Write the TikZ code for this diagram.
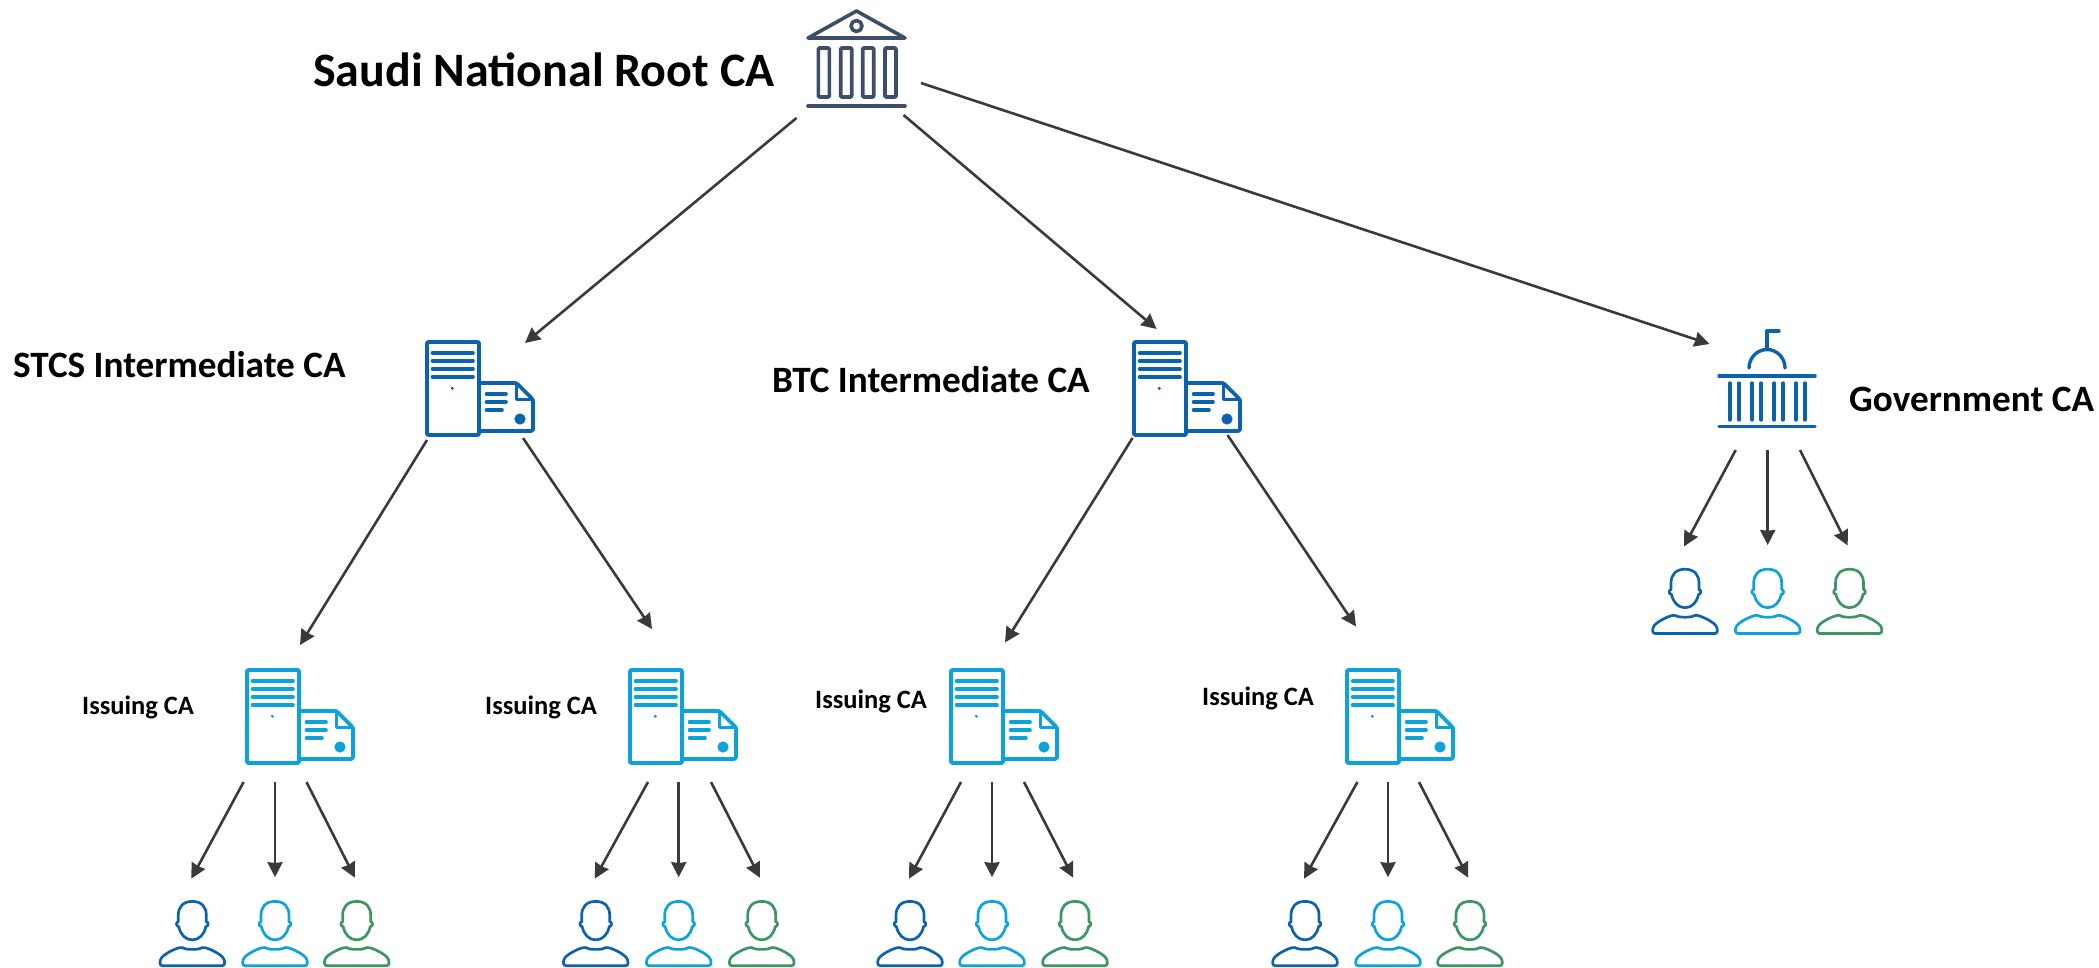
\documentclass[tikz,border=0pt]{standalone}
\usepackage{fontspec}
\setmainfont{Carlito}
\usetikzlibrary{arrows.meta}
\definecolor{rootc}{HTML}{3D4F68}
\definecolor{bluec}{HTML}{0B63AD}
\definecolor{skyc}{HTML}{0CA3DC}
\definecolor{greenc}{HTML}{3B9662}
\definecolor{arrowc}{HTML}{3A3A3A}
\tikzset{
  x=1pt,y=-1pt,
  serverbox/.style={rectangle,inner sep=0pt,minimum width=108pt,minimum height=97pt},
  personbox/.style={rectangle,inner sep=0pt,minimum width=67pt,minimum height=66pt},
  conn/.style={draw=arrowc,line width=2.6pt,-{Stealth[length=15pt,width=15pt,inset=0.8pt]}},
  rootlabel/.style={font=\bfseries\fontsize{48}{48}\selectfont,anchor=west,inner sep=0pt,text=black},
  midlabel/.style={font=\bfseries\fontsize{37.2}{37.2}\selectfont,anchor=west,inner sep=0pt,text=black},
  isslabel/.style={font=\bfseries\fontsize{26.5}{26.5}\selectfont,anchor=west,inner sep=0pt,text=black},
  pics/server/.style={code={
    \begin{scope}[shift={(-54,-48.5)},line width=3.6pt,draw=#1,line cap=round,line join=round]
      \draw[rounded corners=1pt] (2,2) rectangle (54,95);
      \foreach \yy in {13,21,29,37} \draw (7.5,\yy) -- (48,\yy);
      \fill[#1] (27.3,48.3) circle (1.7);
      \draw[rounded corners=1.5pt] (55,43) -- (91.5,43) -- (108,59.5) -- (108,91) -- (55,91);
      \draw (91.5,43) -- (91.5,59.5) -- (108,59.5);
      \draw (61.5,54) -- (81,54);
      \draw (61.5,62) -- (81,62);
      \draw (61.5,70) -- (77,70);
      \fill[#1] (95,79) circle (5.6);
    \end{scope}
  }},
  pics/person/.style={code={
    \begin{scope}[shift={(0,-33)},line width=2.7pt,draw=#1,line join=round]
      \draw (0,1.2) .. controls (-9.5,1.2) and (-14,7) .. (-14,15) -- (-14,21.5)
        .. controls (-16.5,22) and (-16.5,26) .. (-13.5,26.5)
        .. controls (-12,34) and (-7,39.7) .. (0,39.7)
        .. controls (7,39.7) and (12,34) .. (13.5,26.5)
        .. controls (16.5,26) and (16.5,22) .. (14,21.5) -- (14,15)
        .. controls (14,7) and (9.5,1.2) .. (0,1.2) -- cycle;
      \draw[rounded corners=2.5pt] (-32.3,65.5) -- (-32.3,59.5) .. controls (-28,54) and (-19,49) .. (-10,46.8)
        .. controls (-6,49.5) and (6,49.5) .. (10,46.8)
        .. controls (19,49) and (28,54) .. (32.3,59.5) -- (32.3,65.5) -- cycle;
    \end{scope}
  }},
}
\newcommand{\trio}[5]{% prefix, x1, x2, x3, centre y
  \node[personbox] (#1a) at (#2,#5) {}; \pic at (#1a.center) {person=bluec};
  \node[personbox] (#1b) at (#3,#5) {}; \pic at (#1b.center) {person=skyc};
  \node[personbox] (#1c) at (#4,#5) {}; \pic at (#1c.center) {person=greenc};
}
\newcommand{\fan}[6]{% source, persons prefix, dx1, dx2, dx3, dy
  \draw[conn] ([shift={(#3,#6)}]#1.center) -- ([shift={(-1,-54.5)}]#2a.center);
  \draw[conn] ([shift={(#4,#6)}]#1.center) -- ([shift={(0,-56)}]#2b.center);
  \draw[conn] ([shift={(#5,#6)}]#1.center) -- ([shift={(-1.8,-55.5)}]#2c.center);
}
\begin{document}
\begin{tikzpicture}
\useasboundingbox (0,0) rectangle (2099,967);
% root
\node[rectangle,inner sep=0pt,minimum width=100pt,minimum height=100pt] (root) at (856.5,58) {};
\begin{scope}[shift={(root.center)},line width=3.6pt,draw=rootc,line cap=round,line join=round]
  \draw (-48.5,-20) -- (0,-47) -- (48.5,-20) -- cycle;
  \draw (0,-32) circle (5.5);
  \foreach \xx in {-38.2,-15.8,6.2,28.5} \draw[rounded corners=1pt] (\xx,-10) rectangle ++(11,49);
  \draw (-48.5,48) -- (48.5,48);
\end{scope}
\node[rootlabel] (rootlbl) at (313,70) {Saudi National Root CA};
% intermediates
\node[serverbox] (stcs) at (479,388.5) {}; \pic at (stcs.center) {server=bluec};
\node[midlabel] (stcslbl) at (13,365) {STCS Intermediate CA};
\node[serverbox] (btc) at (1186,388.5) {}; \pic at (btc.center) {server=bluec};
\node[midlabel] (btclbl) at (772,380) {BTC Intermediate CA};
% government
\node[rectangle,inner sep=0pt,minimum width=98pt,minimum height=98pt] (gov) at (1767,380) {};
\begin{scope}[shift={(gov.center)},line width=3.4pt,draw=bluec,line cap=round,line join=round]
  \draw (-18,-12) arc (180:360:18 and 18.5);
  \draw (0,-31) -- (0,-49) -- (12,-49);
  \draw (-48,-4) -- (48,-4);
  \foreach \xx in {-37,-28,-15,-6,7,16,29,38} \draw (\xx,3) -- (\xx,40);
  \draw (-48,46.7) -- (48,46.7);
\end{scope}
\node[midlabel] (govlbl) at (1849,399) {Government CA};
% issuing
\node[serverbox] (iss1) at (299,716.5) {}; \pic at (iss1.center) {server=skyc};
\node[serverbox] (iss2) at (682,716.5) {}; \pic at (iss2.center) {server=skyc};
\node[serverbox] (iss3) at (1003,716.5) {}; \pic at (iss3.center) {server=skyc};
\node[serverbox] (iss4) at (1399,716.5) {}; \pic at (iss4.center) {server=skyc};
\node[isslabel] (iss1lbl) at (82,707.5) {Issuing CA};
\node[isslabel] (iss2lbl) at (485,707.5) {Issuing CA};
\node[isslabel] (iss3lbl) at (815,701.5) {Issuing CA};
\node[isslabel] (iss4lbl) at (1202,698.5) {Issuing CA};
% people
\trio{pa}{192.3}{275}{356.7}{933.2}
\trio{pb}{595.7}{678.7}{761.7}{933.2}
\trio{pc}{910}{992}{1075}{933.2}
\trio{pd}{1305}{1388}{1470}{933.2}
\trio{pe}{1685}{1767.7}{1849.5}{601}
% connectors
\draw[conn] ([shift={(-60,60)}]root.center) -- ([shift={(46,-45.5)}]stcs.center);
\draw[conn] ([shift={(47,57)}]root.center) -- ([shift={(-29.4,-59.5)}]btc.center);
\draw[conn] ([shift={(64.5,25)}]root.center) -- ([shift={(-57.5,-36)}]gov.center);
\draw[conn] ([shift={(-52,51.5)}]stcs.center) -- ([shift={(1,-71.5)}]iss1.center);
\draw[conn] ([shift={(44,49.5)}]stcs.center) -- ([shift={(-30,-87.5)}]iss2.center);
\draw[conn] ([shift={(-53.5,49.5)}]btc.center) -- ([shift={(2,-74)}]iss3.center);
\draw[conn] ([shift={(41.5,46.5)}]btc.center) -- ([shift={(-43,-90)}]iss4.center);
\fan{iss1}{pa}{-55.4}{-24}{7.5}{65.5}
\fan{iss2}{pb}{-34}{-3.3}{29}{65.5}
\fan{iss3}{pc}{-42}{-11}{21}{65.5}
\fan{iss4}{pd}{-41.6}{-11}{20}{65.5}
\fan{gov}{pe}{-31.3}{0.7}{33}{70}
\end{tikzpicture}
\end{document}
